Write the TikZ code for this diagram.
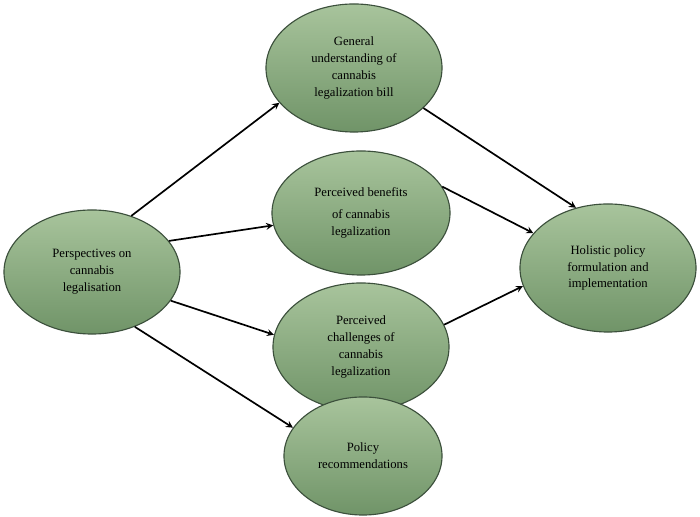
\documentclass[tikz,border=0pt]{standalone}
\usepackage{fontspec}
\setmainfont{Liberation Serif}
\usetikzlibrary{shapes.geometric}
\definecolor{leaftop}{RGB}{168,196,156}
\definecolor{leafbot}{RGB}{112,148,104}
\definecolor{leafrim}{RGB}{60,80,60}
\begin{document}
\begin{tikzpicture}
            [x={(0.025cm,0)},y={(0,-0.025cm)},>=stealth,
             every node/.style={ellipse,draw=leafrim,thick,top color=leaftop,bottom color=leafbot,
             align=center,font=\fontsize{9}{12}\selectfont,inner sep=0pt},
             link/.style={->,line width=1.2pt}]
            \useasboundingbox (0,0) rectangle (700,517);
            \node[minimum width=4.4cm,minimum height=3.1cm] (persp) at (92,272) {Perspectives on\\cannabis\\legalisation};
            \node[minimum width=4.4cm,minimum height=3.2cm] (bill) at (354,68) {General\\understanding of\\cannabis\\legalization bill};
            \node[minimum width=4.45cm,minimum height=3.1cm] (benef) at (361,213) {Perceived benefits\\[4pt]of cannabis\\legalization};
            \node[minimum width=4.4cm,minimum height=3.2cm] (chall) at (361,347) {Perceived\\challenges of\\cannabis\\legalization};
            \node[minimum width=3.95cm,minimum height=2.95cm] (recom) at (363,456) {Policy\\recommendations};
            \node[minimum width=4.4cm,minimum height=3.2cm] (holis) at (608,268) {Holistic policy\\formulation and\\implementation};
            \draw[link] (persp.55) -- (bill.205);
            \draw[link] (persp.22) -- (benef.188);
            \draw[link] (persp.-20) -- (chall.172);
            \draw[link] (persp.-52) -- (recom.158);
            \draw[link] (bill.-30) -- (holis.118);
            \draw[link] (benef.18) -- (holis.155);
            \draw[link] (chall.15) -- (holis.192);
\end{tikzpicture}
\end{document}
